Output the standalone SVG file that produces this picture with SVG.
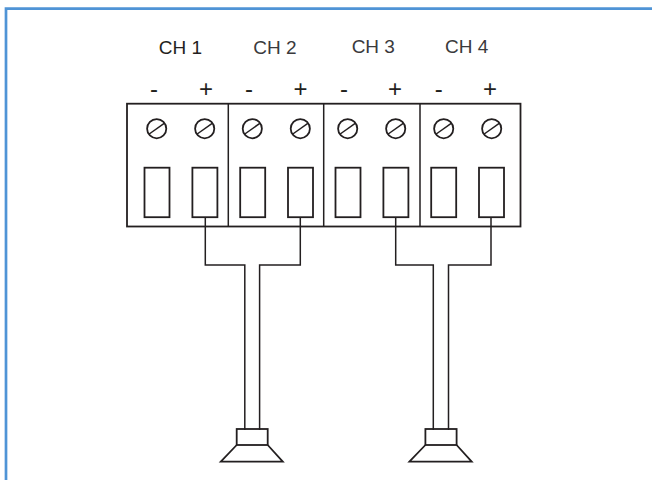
<svg xmlns="http://www.w3.org/2000/svg" width="652" height="480" viewBox="0 0 652 480">
<style>
.f{fill:none;stroke:#231f20;stroke-width:1.5}
.b{fill:none;stroke:#231f20;stroke-width:1.8}
.t{font-family:"Liberation Sans",Arial,sans-serif;fill:#231f20}
.ch{font-size:19px;text-anchor:middle}
.g{fill:#3a3a3c}
.p{font-size:24px;text-anchor:middle}
</style>
<defs>
<g id="screw"><circle r="9.6" class="b"/><line x1="-7.5" y1="5.3" x2="7.5" y2="-5.3" class="f"/></g>
</defs>
<rect width="652" height="480" fill="#fff"/>
<path id="frame" d="M6 480V8.700H652" fill="none" stroke="#4f94d6" stroke-width="2.700"/>
<g id="terminal-block">
<rect x="127" y="103.700" width="393.500" height="122.800" class="b"/>
<path d="M228.300 103.700V226.500M323.700 103.700V226.500M420 103.700V226.500" class="f"/>
</g>
<g id="ch1"><text x="180.500" y="54" class="t ch">CH 1</text><text x="154" y="97" class="t p">-</text><text x="206" y="97" class="t p">+</text>
<use href="#screw" x="156.700" y="128.700"/><use href="#screw" x="204.700" y="128.700"/>
<rect x="144.500" y="167.700" width="25" height="49.500" class="b"/><rect x="192.400" y="167.700" width="25" height="49.500" class="b"/></g>
<g id="ch2"><text x="275" y="54" class="t ch g">CH 2</text><text x="249" y="97" class="t p">-</text><text x="300.500" y="97" class="t p">+</text>
<use href="#screw" x="252.300" y="128.700"/><use href="#screw" x="300.300" y="128.700"/>
<rect x="240.200" y="167.700" width="25" height="49.500" class="b"/><rect x="288" y="167.700" width="25" height="49.500" class="b"/></g>
<g id="ch3"><text x="373.300" y="53" class="t ch g">CH 3</text><text x="344" y="97" class="t p">-</text><text x="395" y="97" class="t p">+</text>
<use href="#screw" x="347.700" y="128.700"/><use href="#screw" x="395.700" y="128.700"/>
<rect x="335.500" y="167.700" width="25" height="49.500" class="b"/><rect x="383.400" y="167.700" width="25" height="49.500" class="b"/></g>
<g id="ch4"><text x="466.700" y="53" class="t ch g">CH 4</text><text x="438.700" y="97" class="t p">-</text><text x="490" y="97" class="t p">+</text>
<use href="#screw" x="443.700" y="128.700"/><use href="#screw" x="491.700" y="128.700"/>
<rect x="431.200" y="167.700" width="25" height="49.500" class="b"/><rect x="479" y="167.700" width="25" height="49.500" class="b"/></g>
<g id="connectors">
<path d="M205.300 217V265H244.800V430M300.300 217V265H259.600V430" class="f"/>
<path d="M395.700 217V265H433.300V430M491 217V265H448.500V430" class="f"/>
</g>
<g id="speaker-1"><rect x="236.700" y="429" width="31" height="16" class="b"/><path d="M236.700 445L220.800 461.700H282.800L267.700 445" class="b"/></g>
<g id="speaker-2"><rect x="425.400" y="429" width="31.200" height="16" class="b"/><path d="M425.400 445L409.400 461.700H471.700L456.600 445" class="b"/></g>
</svg>
